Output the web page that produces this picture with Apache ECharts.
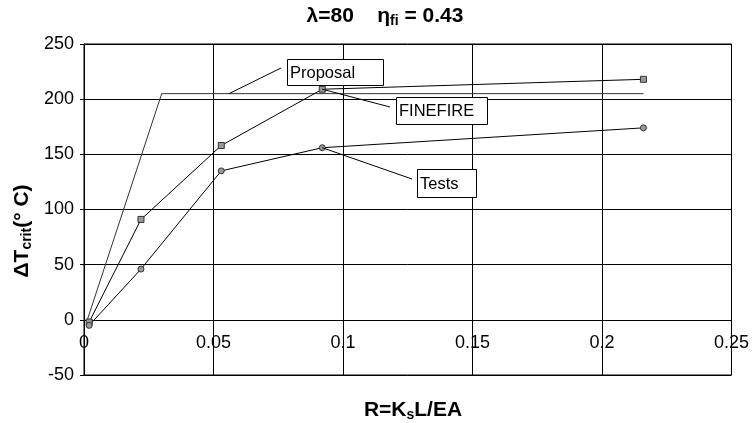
<!DOCTYPE html>
<html><head><meta charset="utf-8">
<script src="https://cdn.jsdelivr.net/npm/echarts@6/dist/echarts.min.js"></script>
<style>html,body{margin:0;padding:0;background:#fff}#c{width:752px;height:423px}</style>
</head><body><div id="c"></div>
<script>
// Data
const fineR = [0.002, 0.022, 0.053, 0.092, 0.216];
const fineT = [-2, 91, 158, 209, 218];
const testR = [0.002, 0.022, 0.053, 0.092, 0.216];
const testT = [-5, 46, 135, 156, 174];
const propR = [0.001, 0.030, 0.216];
const propT = [-2, 205, 205];
const xTicks = [0, 0.05, 0.1, 0.15, 0.2, 0.25];
const yTicks = [-50, 0, 50, 100, 150, 200, 250];
const labelNames = ['Proposal', 'FINEFIRE', 'Tests'];
const labelAnchorR = [0.056, 0.092, 0.092];
const labelAnchorT = [205, 209, 156];

const FONT = 'Liberation Sans, Arial, sans-serif';
const chart = echarts.init(document.getElementById('c'));
const pair = (xs, ys) => xs.map((x, i) => [x, ys[i]]);

const GRID = { left: 84, right: 20, top: 44, bottom: 48 };
const plotH = 423 - GRID.top - GRID.bottom;
const yMin = yTicks[0], yMax = yTicks[yTicks.length - 1];
const zeroOffset = -((0 - yMin) / (yMax - yMin)) * plotH;

const option = {
  animation: false,
  backgroundColor: '#fff',
  grid: Object.assign({ show: true, borderColor: '#000', borderWidth: 1 }, GRID),
  xAxis: {
    type: 'value', min: xTicks[0], max: xTicks[xTicks.length - 1], interval: 0.05,
    position: 'bottom', offset: zeroOffset,
    axisLine: { onZero: false, lineStyle: { color: '#000', width: 1 } },
    axisTick: { show: false },
    axisLabel: { color: '#000', fontSize: 18, fontFamily: FONT, margin: 14 },
    splitLine: { show: true, lineStyle: { color: '#000', width: 1 } }
  },
  yAxis: {
    type: 'value', min: yMin, max: yMax, interval: 50,
    axisLine: { show: true, onZero: false, lineStyle: { color: '#000', width: 1 } },
    axisTick: { show: true, length: 4, lineStyle: { color: '#000' } },
    axisLabel: { color: '#000', fontSize: 18, fontFamily: FONT, margin: 10 },
    splitLine: { show: true, lineStyle: { color: '#000', width: 1 } }
  },
  series: [
    { name: 'Proposal', type: 'line', data: pair(propR, propT), symbol: 'none',
      lineStyle: { color: '#333', width: 1 } },
    { name: 'FINEFIRE', type: 'line', data: pair(fineR, fineT), symbol: 'rect', symbolSize: 6,
      itemStyle: { color: '#999', borderColor: '#333', borderWidth: 1 },
      lineStyle: { color: '#000', width: 1 } },
    { name: 'Tests', type: 'line', data: pair(testR, testT), symbol: 'circle', symbolSize: 6,
      itemStyle: { color: '#999', borderColor: '#333', borderWidth: 1 },
      lineStyle: { color: '#000', width: 1 } }
  ]
};
chart.setOption(option);

// Annotations (boxes + leader lines)
const boxes = [
  { x: 287, y: 59, w: 96, h: 26, lx: 281, ly: 68 },
  { x: 396, y: 97, w: 91, h: 27, lx: 390, ly: 107 },
  { x: 417, y: 169, w: 59, h: 28, lx: 412, ly: 179 }
];
const graphics = [];
boxes.forEach((b, i) => {
  const p = chart.convertToPixel({ gridIndex: 0 }, [labelAnchorR[i], labelAnchorT[i]]);
  graphics.push({ type: 'line', shape: { x1: p[0], y1: p[1], x2: b.lx, y2: b.ly },
    style: { stroke: '#000', lineWidth: 1 }, z: 50 });
  graphics.push({ type: 'rect', shape: { x: b.x + 0.5, y: b.y + 0.5, width: b.w, height: b.h },
    style: { fill: '#fff', stroke: '#000', lineWidth: 1 }, z: 60 });
  graphics.push({ type: 'text', x: b.x + 3, y: b.y + b.h / 2 + 1,
    style: { text: labelNames[i], font: '16.5px ' + FONT, fill: '#000', verticalAlign: 'middle' }, z: 61 });
});
const richStyle = {
  a: { font: 'bold 21px ' + FONT, fill: '#000' },
  s: { font: 'bold 14px ' + FONT, fill: '#000', padding: [10, 0, 0, 0] }
};
// Title
graphics.push({ type: 'text', x: 385, y: 16, style: {
  text: '{a|λ=80    η}{s|fi}{a| = 0.43}', align: 'center', verticalAlign: 'middle', rich: richStyle
}, z: 70 });
// Y-axis name
graphics.push({ type: 'text', x: 22, y: 231, rotation: Math.PI / 2, style: {
  text: '{a|ΔT}{s|crit}{a|(° C)}', align: 'center', verticalAlign: 'middle', rich: richStyle
}, z: 70 });
// X-axis name
graphics.push({ type: 'text', x: 413, y: 410, style: {
  text: '{a|R=K}{s|s}{a|L/EA}', align: 'center', verticalAlign: 'middle', rich: richStyle
}, z: 70 });
chart.setOption({ graphic: graphics });
</script></body></html>
